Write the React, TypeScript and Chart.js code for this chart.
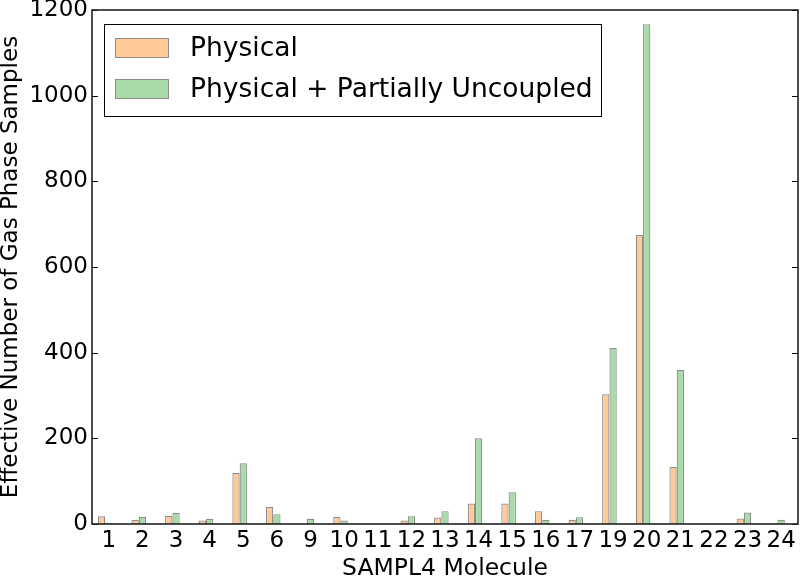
import React, { useEffect, useRef } from "react";
import { Chart, registerables } from "chart.js";

Chart.register(...registerables);

const molecules = ["1", "2", "3", "4", "5", "6", "9", "10", "11", "12", "13", "14", "15", "16", "17", "19", "20", "21", "22", "23", "24"];
const physical = [18, 10, 19, 8, 119, 40, 2, 17, 1, 8, 15, 48, 48, 30, 10, 303, 675, 133, 1, 13, 1];
const physicalPartial = [3, 17, 26, 12, 142, 23, 12, 8, 1, 18, 30, 200, 74, 10, 16, 411, 1167, 360, 0.5, 27, 10];
const yTicks = [0, 200, 400, 600, 800, 1000, 1200];
const seriesLabels = ["Physical", "Physical + Partially Uncoupled"];

const FONT = "'DejaVu Sans', sans-serif";
const ORANGE = "#FFC999";
const GREEN = "#A8DBA8";
const EDGE = "#8c8c8c";

const framePlugin = {
  id: "frameAndLegend",
  afterDatasetsDraw(chart: any) {
    const { ctx, chartArea } = chart;
    const { left, right, top, bottom } = chartArea;
    const ys = chart.scales.y;
    ctx.save();
    ctx.strokeStyle = "#000";
    ctx.lineWidth = 1;
    ctx.beginPath();
    yTicks.forEach((v) => {
      const py = Math.round(ys.getPixelForValue(v)) + 0.5;
      ctx.moveTo(left, py);
      ctx.lineTo(left + 6, py);
      ctx.moveTo(right, py);
      ctx.lineTo(right - 6, py);
    });
    ctx.stroke();
    ctx.lineWidth = 1.6;
    ctx.strokeStyle = "#222";
    ctx.strokeRect(left, top, right - left, bottom - top);

    // legend
    const lx = 104.5, ly = 24.5, lw = 497, lh = 92;
    ctx.fillStyle = "#fff";
    ctx.fillRect(lx, ly, lw, lh);
    ctx.lineWidth = 1;
    ctx.strokeStyle = "#000";
    ctx.strokeRect(lx, ly, lw, lh);
    const colors = [ORANGE, GREEN];
    const rowY = [48, 89];
    ctx.font = `26.5px ${FONT}`;
    ctx.textBaseline = "middle";
    ctx.textAlign = "left";
    seriesLabels.forEach((lab, i) => {
      ctx.fillStyle = colors[i];
      ctx.fillRect(115.5, rowY[i] - 9.5, 53, 19);
      ctx.strokeStyle = EDGE;
      ctx.strokeRect(115.5, rowY[i] - 9.5, 53, 19);
      ctx.fillStyle = "#000";
      ctx.fillText(lab, 190, rowY[i] + 1);
    });
    ctx.restore();
  },
};

export default function App() {
  const ref = useRef<HTMLCanvasElement>(null);
  useEffect(() => {
    if (!ref.current) return;
    const chart = new Chart(ref.current, {
      type: "bar",
      data: {
        labels: molecules,
        datasets: [
          { label: seriesLabels[0], data: physical, backgroundColor: ORANGE, borderColor: EDGE, borderWidth: 1.2 },
          { label: seriesLabels[1], data: physicalPartial, backgroundColor: GREEN, borderColor: EDGE, borderWidth: 1.2 },
          { label: "", data: molecules.map(() => null), backgroundColor: "rgba(0,0,0,0)", borderWidth: 0 },
        ],
      },
      options: {
        animation: false,
        responsive: true,
        maintainAspectRatio: false,
        layout: { padding: { top: 10, right: 2, left: 0, bottom: 0 } },
        plugins: { legend: { display: false }, tooltip: { enabled: false } },
        datasets: { bar: { categoryPercentage: 0.65, barPercentage: 1.0 } },
        scales: {
          x: {
            offset: true,
            grid: { display: false, drawTicks: false },
            border: { display: false },
            ticks: { color: "#000", font: { family: FONT, size: 23 }, padding: 3, maxRotation: 0, autoSkip: false },
            title: { display: true, text: "SAMPL4 Molecule", color: "#000", font: { family: FONT, size: 23.5, lineHeight: 1.0 }, padding: { top: 0, bottom: -2 } },
            afterFit(scale: any) {
              scale.height = 55;
              scale.paddingLeft = 0;
              scale.paddingRight = 0;
            },
          },
          y: {
            min: 0,
            max: 1200,
            grid: { display: false, drawTicks: false },
            border: { display: false },
            ticks: { stepSize: 200, color: "#000", font: { family: FONT, size: 23 }, padding: 4, callback: (v: any) => String(v) },
            title: { display: true, text: "Effective Number of Gas Phase Samples", color: "#000", font: { family: FONT, size: 23, lineHeight: 1.0 }, padding: { top: 0, bottom: 0 } },
            afterFit(scale: any) {
              scale.width = 92;
              scale.paddingTop = 0;
              scale.paddingBottom = 0;
            },
          },
        },
      },
      plugins: [framePlugin],
    });
    return () => chart.destroy();
  }, []);
  return (
    <div style={{ position: "absolute", left: 0, top: 0, width: 800, height: 579, background: "#fff" }}>
      <canvas ref={ref} />
    </div>
  );
}
